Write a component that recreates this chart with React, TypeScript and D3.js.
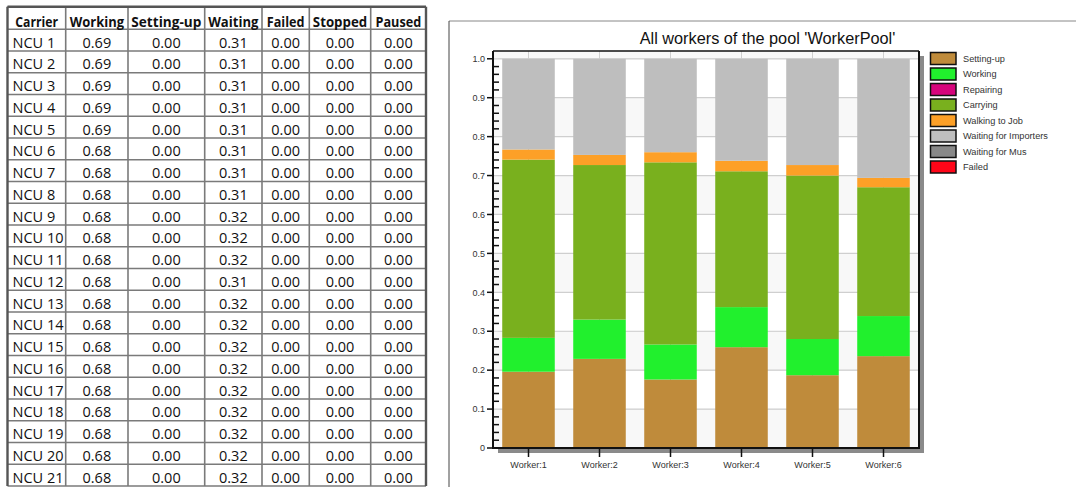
import React from "react";
import * as d3 from "d3";

// ---------- Table data ----------
const tableHeaders = ["Carrier", "Working", "Setting-up", "Waiting", "Failed", "Stopped", "Paused"];
const carriers = [
  "NCU 1", "NCU 2", "NCU 3", "NCU 4", "NCU 5", "NCU 6", "NCU 7", "NCU 8", "NCU 9", "NCU 10",
  "NCU 11", "NCU 12", "NCU 13", "NCU 14", "NCU 15", "NCU 16", "NCU 17", "NCU 18", "NCU 19", "NCU 20", "NCU 21",
];
const carrierWorking = [0.69, 0.69, 0.69, 0.69, 0.69, 0.68, 0.68, 0.68, 0.68, 0.68, 0.68, 0.68, 0.68, 0.68, 0.68, 0.68, 0.68, 0.68, 0.68, 0.68, 0.68];
const carrierSettingUp = [0, 0, 0, 0, 0, 0, 0, 0, 0, 0, 0, 0, 0, 0, 0, 0, 0, 0, 0, 0, 0];
const carrierWaiting = [0.31, 0.31, 0.31, 0.31, 0.31, 0.31, 0.31, 0.31, 0.32, 0.32, 0.32, 0.31, 0.32, 0.32, 0.32, 0.32, 0.32, 0.32, 0.32, 0.32, 0.32];
const carrierFailed = [0, 0, 0, 0, 0, 0, 0, 0, 0, 0, 0, 0, 0, 0, 0, 0, 0, 0, 0, 0, 0];
const carrierStopped = [0, 0, 0, 0, 0, 0, 0, 0, 0, 0, 0, 0, 0, 0, 0, 0, 0, 0, 0, 0, 0];
const carrierPaused = [0, 0, 0, 0, 0, 0, 0, 0, 0, 0, 0, 0, 0, 0, 0, 0, 0, 0, 0, 0, 0];

// ---------- Chart data ----------
const chartTitle = "All workers of the pool 'WorkerPool'";
const workers = ["Worker:1", "Worker:2", "Worker:3", "Worker:4", "Worker:5", "Worker:6"];
const states = [
  "Setting-up", "Working", "Repairing", "Carrying", "Walking to Job",
  "Waiting for Importers", "Waiting for Mus", "Failed",
];
const stateColors = ["#bf8b3b", "#21f02d", "#d6047c", "#79b01e", "#fda027", "#bebebe", "#888888", "#ff0518"];
const settingUp = [0.196, 0.229, 0.176, 0.259, 0.187, 0.236];
const working = [0.087, 0.101, 0.090, 0.103, 0.093, 0.103];
const repairing = [0, 0, 0, 0, 0, 0];
const carrying = [0.458, 0.397, 0.468, 0.349, 0.420, 0.331];
const walkingToJob = [0.026, 0.026, 0.026, 0.027, 0.027, 0.024];
const waitingForImporters = [0.233, 0.247, 0.240, 0.262, 0.273, 0.306];
const waitingForMus = [0, 0, 0, 0, 0, 0];
const failed = [0, 0, 0, 0, 0, 0];
const yTicks = [0, 0.1, 0.2, 0.3, 0.4, 0.5, 0.6, 0.7, 0.8, 0.9, 1.0];

const seriesValues = [settingUp, working, repairing, carrying, walkingToJob, waitingForImporters, waitingForMus, failed];

export default function App() {
  // ----- table layout -----
  const colX = [7.5, 65.7, 128, 204.7, 262, 309.3, 370.7, 426];
  const headerWidths = [42.7, 54.3, 70, 50.3, 37.7, 54.3, 45.7];
  const headTop = 6.7;
  const headBottom = 29.3;
  const rowH = 21.75;
  const tableBottom = headBottom + carriers.length * rowH;
  const tableFont = "'Open Sans', 'Noto Sans', sans-serif";
  const colsData = [carrierWorking, carrierSettingUp, carrierWaiting, carrierFailed, carrierStopped, carrierPaused];
  const fmt2 = d3.format(".2f");

  // ----- chart layout -----
  const plotL = 493, plotR = 919, plotT = 51, plotB = 448;
  const x = d3.scaleBand<string>().domain(workers).range([plotL, plotR]).paddingInner(0.26).paddingOuter(0.13);
  const y = d3.scaleLinear().domain([0, 1.02]).range([plotB, plotT]);
  const rows = workers.map((w, i) => {
    const r: any = { worker: w };
    states.forEach((s, k) => (r[s] = seriesValues[k][i]));
    return r;
  });
  const stack = d3.stack<any>().keys(states)(rows);
  const minorTicks = d3.range(0, 51).map((i) => i * 0.02).filter((v) => Math.round(v * 50) % 5 !== 0);
  const stripeEdges = [0, 0.1, 0.2, 0.3, 0.4, 0.5, 0.6, 0.7, 0.8, 0.9, 1.0, 1.02];
  const chartFont = "'Liberation Sans', Arial, sans-serif";
  const tickFmt = (v: number) => (v === 0 ? "0" : d3.format(".1f")(v));

  return (
    <svg width={1076} height={487} style={{ position: "fixed", left: 0, top: 0, background: "#fff" }}>
      {/* ================= TABLE ================= */}
      <g fontFamily={tableFont} fontSize={14.5} fill="#111">
        {[headTop, headBottom, ...carriers.map((_, i) => headBottom + (i + 1) * rowH)].map((yy, i) => (
          <line key={"h" + i} x1={colX[0]} x2={colX[colX.length - 1]} y1={yy} y2={yy} stroke="#7a7a7a" strokeWidth={1.6} />
        ))}
        {colX.map((xx, i) => (
          <line key={"v" + i} x1={xx} x2={xx} y1={headTop} y2={tableBottom} stroke={i === 0 || i === colX.length - 1 ? "#555" : "#7a7a7a"} strokeWidth={i === 0 || i === colX.length - 1 ? 2.4 : 1.6} />
        ))}
        <line x1={colX[0]} x2={colX[colX.length - 1]} y1={headTop} y2={headTop} stroke="#555" strokeWidth={2.4} />
        {tableHeaders.map((h, i) => (
          <text
            key={"th" + i}
            x={(colX[i] + colX[i + 1]) / 2}
            y={headTop + 20}
            textAnchor="middle"
            fontWeight="bold"
            textLength={headerWidths[i]}
            lengthAdjust="spacingAndGlyphs"
          >
            {h}
          </text>
        ))}
        {carriers.map((c, r) => {
          const base = headBottom + r * rowH + 18.4;
          return (
            <g key={"r" + r}>
              <text x={colX[0] + 5} y={base}>{c}</text>
              {colsData.map((col, j) => (
                <text key={j} x={(colX[j + 1] + colX[j + 2]) / 2} y={base} textAnchor="middle">
                  {fmt2(col[r])}
                </text>
              ))}
            </g>
          );
        })}
      </g>

      {/* ================= CHART PANEL ================= */}
      <line x1={449} x2={1076} y1={21} y2={21} stroke="#888" strokeWidth={1} />
      <line x1={449} x2={449} y1={21} y2={487} stroke="#444" strokeWidth={1} />

      <text x={767.5} y={44} textAnchor="middle" fontFamily={chartFont} fontSize={16.3} fill="#111">
        {chartTitle}
      </text>

      {/* shadow */}
      <rect x={plotL + 5} y={plotT + 5} width={plotR - plotL} height={plotB - plotT} fill="#8a8a8a" />
      {/* plot background stripes */}
      {stripeEdges.slice(0, -1).map((v, i) => (
        <rect key={"s" + i} x={plotL} width={plotR - plotL} y={y(stripeEdges[i + 1])} height={y(v) - y(stripeEdges[i + 1])} fill={i % 2 === 0 ? "#f8f8f8" : "#ffffff"} />
      ))}
      {/* gridlines */}
      {yTicks.slice(1).map((t) => (
        <line key={"g" + t} x1={plotL} x2={plotR} y1={y(t)} y2={y(t)} stroke="#cfcfcf" strokeWidth={1.2} />
      ))}
      {workers.map((w) => (
        <line key={"vg" + w} x1={x(w)! + x.bandwidth() / 2} x2={x(w)! + x.bandwidth() / 2} y1={plotT} y2={plotB} stroke="#cfcfcf" strokeWidth={1} />
      ))}

      {/* bars */}
      {stack.map((layer, k) => (
        <g key={"L" + k} fill={stateColors[k]}>
          {layer.map((d, i) =>
            d[1] - d[0] > 0 ? (
              <rect key={i} x={x(workers[i])!} width={x.bandwidth()} y={y(d[1])} height={y(d[0]) - y(d[1])} />
            ) : null
          )}
        </g>
      ))}

      {/* frame */}
      <line x1={plotL} x2={plotR} y1={plotT} y2={plotT} stroke="#111" strokeWidth={1.5} />
      <line x1={plotR} x2={plotR} y1={plotT} y2={plotB} stroke="#111" strokeWidth={2} />
      <line x1={plotL} x2={plotR + 1} y1={plotB} y2={plotB} stroke="#111" strokeWidth={2} />
      <line x1={plotL} x2={plotL} y1={plotT} y2={plotB + 1} stroke="#111" strokeWidth={2} />

      {/* y ticks */}
      <g fontFamily={chartFont} fontSize={9} fill="#333">
        {yTicks.map((t) => (
          <g key={"yt" + t}>
            <line x1={plotL - 6} x2={plotL} y1={y(t)} y2={y(t)} stroke="#111" strokeWidth={1.5} />
            <text x={plotL - 8} y={y(t) + 3.2} textAnchor="end">{tickFmt(t)}</text>
          </g>
        ))}
        {minorTicks.map((t) => (
          <line key={"mt" + t} x1={plotL} x2={plotL + 6} y1={y(t)} y2={y(t)} stroke="#111" strokeWidth={1.5} />
        ))}
      </g>

      {/* x ticks */}
      <g fontFamily={chartFont} fontSize={9} fill="#333">
        {workers.map((w) => {
          const cx = x(w)! + x.bandwidth() / 2;
          return (
            <g key={"xt" + w}>
              <line x1={cx} x2={cx} y1={plotB} y2={plotB + 9} stroke="#111" strokeWidth={1.5} />
              <text x={cx} y={plotB + 19.5} textAnchor="middle">{w}</text>
            </g>
          );
        })}
      </g>

      {/* legend */}
      <g fontFamily={chartFont} fontSize={9.2} fill="#333">
        {states.map((s, i) => {
          const cy = 58.5 + i * 15.5;
          return (
            <g key={"lg" + i}>
              <rect x={930.5} y={cy - 6} width={25.5} height={12} fill={stateColors[i]} stroke="#111" strokeWidth={1.5} />
              <text x={963} y={cy + 3.3}>{s}</text>
            </g>
          );
        })}
      </g>
    </svg>
  );
}
